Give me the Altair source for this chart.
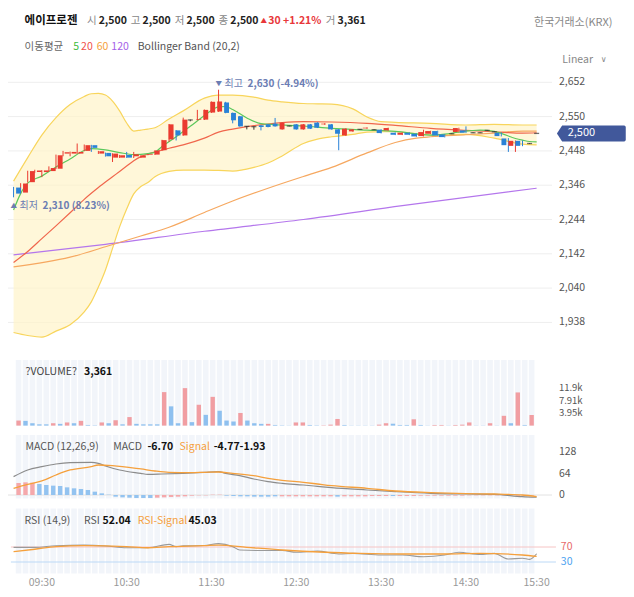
import altair as alt
import pandas as pd

FONT = "Noto Sans CJK KR"

# ---------------- data ----------------
times = ["09:10", "09:15", "09:20", "09:25", "09:30", "09:35", "09:40", "09:45", "09:50", "09:55",
         "10:00", "10:05", "10:10", "10:15", "10:20", "10:25", "10:30", "10:35", "10:40", "10:45", "10:50", "10:55",
         "11:00", "11:05", "11:10", "11:15", "11:20", "11:25", "11:30", "11:35", "11:40", "11:45", "11:50", "11:55",
         "12:00", "12:05", "12:10", "12:15", "12:20", "12:25", "12:30", "12:35", "12:40", "12:45", "12:50", "12:55",
         "13:00", "13:05", "13:10", "13:15", "13:20", "13:25", "13:30", "13:35", "13:40", "13:45", "13:50", "13:55",
         "14:00", "14:05", "14:10", "14:15", "14:20", "14:25", "14:30", "14:35", "14:40", "14:45", "14:50", "14:55",
         "15:00", "15:05", "15:10", "15:15", "15:30"]

opens = [2339, 2324, 2355, 2385, 2385, 2388, 2395, 2440, 2440, 2440,
         2448, 2465, 2440, 2442, 2428, 2428, 2436, 2432, 2428, 2436,
         2437, 2450, 2482, 2509, 2494, 2540, 2540, 2541, 2562, 2565,
         2592, 2561, 2551, 2521, 2520, 2524, 2527, 2529, 2512, 2522,
         2527, 2512, 2527, 2532, 2527, 2527, 2512, 2494, 2506, 2512,
         2515, 2511, 2511, 2509, 2502, 2496, 2502, 2499, 2492, 2499,
         2507, 2497, 2499, 2504, 2509, 2502, 2502, 2509, 2505, 2502,
         2485, 2463, 2478, 2470, 2500]
highs = [2341, 2352, 2389, 2392, 2391, 2402, 2437, 2448, 2446, 2470,
         2467, 2466, 2448, 2443, 2441, 2436, 2445, 2445, 2435, 2439,
         2450, 2481, 2528, 2510, 2547, 2541, 2570, 2571, 2595, 2630,
         2594, 2562, 2552, 2522, 2521, 2525, 2528, 2546, 2533, 2523,
         2528, 2528, 2528, 2533, 2530, 2528, 2513, 2515, 2513, 2513,
         2518, 2512, 2512, 2517, 2503, 2503, 2503, 2500, 2511, 2508,
         2508, 2498, 2500, 2517, 2521, 2503, 2503, 2510, 2506, 2503,
         2486, 2479, 2479, 2471, 2500]
lows = [2310, 2322, 2354, 2383, 2370, 2387, 2394, 2432, 2432, 2439,
        2447, 2445, 2439, 2431, 2415, 2427, 2427, 2427, 2427, 2435,
        2436, 2449, 2475, 2479, 2493, 2536, 2539, 2540, 2561, 2564,
        2560, 2530, 2520, 2512, 2511, 2509, 2518, 2520, 2511, 2521,
        2511, 2511, 2513, 2516, 2526, 2511, 2450, 2493, 2505, 2511,
        2514, 2510, 2500, 2508, 2495, 2495, 2495, 2490, 2491, 2498,
        2493, 2488, 2498, 2503, 2501, 2501, 2501, 2508, 2504, 2491,
        2445, 2445, 2462, 2469, 2500]
closes = [2321, 2351, 2388, 2390, 2390, 2397, 2435, 2444, 2445, 2445,
          2465, 2457, 2447, 2432, 2440, 2435, 2428, 2438, 2434, 2438,
          2449, 2480, 2527, 2494, 2541, 2540, 2542, 2570, 2594, 2595,
          2561, 2539, 2521, 2521, 2520, 2519, 2519, 2521, 2532, 2522,
          2512, 2527, 2514, 2517, 2529, 2512, 2499, 2514, 2512, 2512,
          2517, 2511, 2501, 2516, 2496, 2502, 2496, 2491, 2504, 2507,
          2494, 2489, 2499, 2516, 2502, 2502, 2502, 2509, 2505, 2492,
          2465, 2478, 2463, 2470, 2500]

volumes = [1600, 1500, 750, 400, 400, 750, 550, 1000, 750, 1500,
           200, 100, 1000, 750, 1700, 400, 2700, 550, 400, 400,
           400, 10600, 6100, 750, 11860, 1100, 6600, 3400, 9100, 4700,
           1600, 1300, 4000, 1600, 750, 550, 550, 200, 100, 50,
           1000, 1000, 200, 100, 100, 300, 2100, 200, 50, 50,
           50, 50, 300, 750, 600, 200, 200, 2000, 200, 50,
           200, 200, 50, 200, 300, 1000, 50, 50, 750, 50,
           3100, 750, 10500, 200, 3361]
vol_dir = list("uddddududu" "ddudududdd" "duddududud" "dduddduddd" "uudduuuddd"
               "dduudddudd" "uuduuuddud" "ududu")

hist = [36, 38, 37,
        33, 30, 28, 27, 23, 20, 18, 15, 10, 5,
        1,
        -5, -7, -8, -9, -9, -9,
        -8, -7, -6, -5, -4,
        -2, -1, -1, 1, 1,
        -2, -3, -4, -4, -5, -5, -5, -4,
        -4, -4, -4, -4, -4, -4, -4, -4,
        -5, -4, -4, -4, -4, -3, -3, -3,
        -3, -3, -3, -3, -2, -2, -2, -2,
        -2, -2, -2, -1, -1, -1, -1, -1,
        -1, -1, -2, -2, -2]
hist_dir = list("uuu" + "d" * 11 + "d" * 6 + "u" * 10 + "d" * 8 + "u" * 8 + "d" + "u" * 7 + "d" + "u" * 20)

macd_idx = [0, 2, 4, 6, 8, 11, 12, 13, 15, 18, 19, 21, 24, 27, 29, 30, 32, 34, 36, 38, 41, 43, 45, 50, 54, 59, 64, 68, 72, 74]
macd_val = [55, 75, 85, 93, 97, 98, 95, 87, 75, 65, 62, 63, 65, 68, 70, 65, 58, 48, 40, 35, 30, 26, 22, 15, 10, 5, 3, 2, -5, -6.7]
msig_idx = [0, 2, 4, 6, 8, 11, 12, 14, 18, 20, 22, 25, 27, 29, 31, 34, 36, 38, 41, 43, 45, 50, 54, 59, 64, 68, 72, 74]
msig_val = [20, 32, 42, 60, 75, 85, 90, 88, 78, 72, 68, 67, 68, 69, 65, 58, 50, 44, 38, 33, 28, 20, 12, 7, 4, 3, 0, -4.77]

rsi_idx = [0, 3, 6, 10, 13, 16, 19, 22, 23, 24, 27, 29, 31, 32, 35, 38, 40, 43, 46, 48, 52, 55, 58, 61, 63, 66, 68, 70, 72, 73, 74]
rsi_val = [69, 69, 73.5, 75, 72.7, 68, 68, 77, 71, 73, 74, 79, 71, 62, 60.5, 60.5, 56, 59, 51.3, 53, 48.7, 48.7, 44, 48.7, 56, 50, 53, 38, 40, 37, 52.04]
rsig_idx = [0, 3, 6, 10, 16, 19, 22, 27, 29, 33, 38, 44, 49, 55, 61, 66, 72, 74]
rsig_val = [57.6, 64, 71, 73.5, 71, 68, 71, 73.5, 75, 69.2, 62, 56, 53, 51.3, 51.3, 53, 48.7, 45.03]

ma5_idx = [0, 1, 2, 4, 6, 8, 10, 11, 13, 15, 17, 19, 20, 21, 23, 25, 27, 29, 30, 31, 33, 35, 37, 41, 45, 50, 54, 59, 61, 63, 66, 68, 69, 71, 72, 73, 74]
ma5_val = [2272, 2321, 2352, 2373, 2400, 2424, 2449, 2455, 2451, 2443, 2437, 2440, 2444, 2461, 2490, 2521, 2553, 2579, 2580, 2571,
           2546, 2529, 2526, 2522, 2515, 2510, 2506, 2495, 2498, 2504, 2510, 2506, 2500, 2485, 2480, 2476, 2475]
ma20_idx = [0, 2, 4, 6, 8, 10, 12, 14, 15, 16, 17, 18, 20, 22, 24, 27, 29, 31, 34, 36, 38, 41, 45, 50, 54, 59, 64, 68, 72, 74]
ma20_val = [2116, 2149, 2187, 2225, 2264, 2304, 2339, 2371, 2387, 2403, 2419, 2431, 2445, 2456, 2466, 2486, 2504, 2513, 2523, 2528,
            2532, 2535, 2534, 2530, 2524, 2515, 2509, 2505, 2501, 2502]
ma60_idx = [0, 8, 13, 18, 22, 27, 31, 36, 41, 45, 50, 54, 57, 59, 64, 68, 72, 74]
ma60_val = [2103, 2132, 2163, 2195, 2221, 2265, 2299, 2337, 2372, 2399, 2442, 2473, 2486, 2490, 2496, 2501, 2507, 2507]
ma120_idx = [0, 13, 27, 41, 55, 74]
ma120_val = [2139, 2170, 2209, 2244, 2285, 2337]

bb_idx = [0, 2, 4, 6, 8, 10, 11, 12, 13, 14, 15, 16, 17, 18, 19, 20, 22, 24, 27, 29,
          31, 34, 36, 38, 41, 43, 45, 48, 50, 52, 54, 59, 64, 68, 72, 74]
bb_up = [2358, 2428, 2495, 2547, 2586, 2610, 2618, 2619, 2614, 2596, 2567, 2531, 2507, 2510, 2513, 2517, 2543, 2567, 2605, 2614,
         2614, 2608, 2599, 2594, 2589, 2588, 2587, 2573, 2549, 2535, 2533, 2530, 2525, 2527, 2525, 2525]
bb_lo = [1908, 1899, 1894, 1912, 1931, 1969, 1999, 2043, 2094, 2158, 2222, 2275, 2320, 2342, 2354, 2371, 2387, 2391, 2391, 2390,
         2388, 2399, 2412, 2433, 2470, 2483, 2490, 2497, 2504, 2505, 2505, 2495, 2497, 2486, 2468, 2466]

price_ticks = [1938, 2040, 2142, 2244, 2346, 2448, 2550, 2652]
vol_ticks = [3950, 7910, 11900]
vol_tick_labels = ["3.95k", "7.91k", "11.9k"]
macd_ticks = [0, 64, 128]
rsi_ticks = [70, 30]

n = len(times)
for arr in (opens, highs, lows, closes, volumes, vol_dir, hist, hist_dir):
    assert len(arr) == n, len(arr)
assert len(macd_idx) == len(macd_val) and len(msig_idx) == len(msig_val)
assert len(rsi_idx) == len(rsi_val) and len(rsig_idx) == len(rsig_val)
assert len(ma5_idx) == len(ma5_val) and len(ma20_idx) == len(ma20_val)
assert len(ma60_idx) == len(ma60_val) and len(ma120_idx) == len(ma120_val)
assert len(bb_idx) == len(bb_up) == len(bb_lo)

# ---------------- layout helpers ----------------
W, H = 618, 589
K = 0.975


def PX(x):
    return round(x * K, 2)


def PY(y):
    return round(y - 8, 2)


XS = alt.Scale(domain=[0, n - 1], range=[PX(5.7), PX(542.2)], nice=False, zero=False)
PS = alt.Scale(domain=[1938, 2652], range=[PY(322.4), PY(82.3)], nice=False, zero=False)
VS = alt.Scale(domain=[0, 11900], range=[PY(425.6), PY(388)], nice=False, zero=False)
MS = alt.Scale(domain=[0, 128], range=[PY(495), PY(452.3)], nice=False, zero=False)
RS = alt.Scale(domain=[30, 70], range=[PY(562), PY(547)], nice=False, zero=False)


def xq(field="i"):
    return alt.X(f"{field}:Q", scale=XS, axis=None)


def yq(field, scale):
    return alt.Y(f"{field}:Q", scale=scale, axis=None)


one = pd.DataFrame({"k": [0]})


def txt(s, x, y, color="#222", size=11, weight="normal", align="left", font=FONT):
    return alt.Chart(one).mark_text(
        text=s, align=align, baseline="middle", fontSize=size, fontWeight=weight,
        color=color, font=font
    ).encode(x=alt.value(PX(x)), y=alt.value(PY(y)))


def fmt(v):
    return f"{v:,}"


def series(idx, val):
    return pd.DataFrame({"i": idx, "v": val})


def line(idx, val, scale, color, width=1.2):
    return alt.Chart(series(idx, val)).mark_line(
        color=color, strokeWidth=width, interpolate="monotone"
    ).encode(x=xq(), y=yq("v", scale))


cdf = pd.DataFrame({"i": list(range(n)), "t": times, "o": opens, "h": highs, "l": lows, "c": closes})
cdf["dir"] = ["up" if c > o else ("down" if c < o else "flat") for o, c in zip(opens, closes)]
CCOL = alt.Scale(domain=["up", "down", "flat"], range=["#ea3b30", "#2a82d7", "#333333"])

layers = []

# ---- header ----
RED = "#e8373a"
HS = 10.5
layers += [
    txt("에이프로젠", 17, 21, "#111", 11.5, "bold"),
    txt("시", 81, 21, "#888", HS),
    txt(fmt(opens[-1]), 93, 21, "#222", HS, "bold"),
    txt("고", 126, 21, "#888", HS),
    txt(fmt(highs[-1]), 138, 21, "#222", HS, "bold"),
    txt("저", 171, 21, "#888", HS),
    txt(fmt(lows[-1]), 183, 21, "#222", HS, "bold"),
    txt("종", 216, 21, "#888", HS),
    txt(fmt(closes[-1]), 228, 21, "#222", HS, "bold"),
    txt("▲", 259, 20.5, RED, 6.5),
    txt("30 +1.21%", 267, 21, RED, HS, "bold"),
    txt("거", 326, 21, "#888", HS),
    txt(fmt(volumes[-1]), 338, 21, "#222", HS, "bold"),
    txt("한국거래소(KRX)", 620, 22.5, "#888", 11, align="right"),
    txt("이동평균", 17, 46.5, "#666", 10.5),
    txt("5", 67, 46.5, "#3dbb3d", 10.5),
    txt("20", 75, 46.5, "#f0504a", 10.5),
    txt("60", 91, 46.5, "#f5a03c", 10.5),
    txt("120", 106, 46.5, "#a45ee8", 10.5),
    txt("Bollinger Band (20,2)", 133, 46.5, "#555", 10.5),
    txt("Linear", 600, 60, "#888", 10.5, align="right"),
    txt("∨", 608, 60, "#888", 8, font="DejaVu Sans"),
]

# ---- price pane ----
layers.append(
    alt.Chart(pd.DataFrame({"v": price_ticks})).mark_rule(color="#eeeeee", strokeWidth=1).encode(
        y=yq("v", PS), x=alt.value(0), x2=alt.value(PX(558)))
)
bbdf = pd.DataFrame({"i": bb_idx, "up": bb_up, "lo": bb_lo})
layers.append(
    alt.Chart(bbdf).mark_area(color="#fff3c4", opacity=0.65, interpolate="monotone").encode(
        x=xq(), y=yq("up", PS), y2="lo:Q")
)
layers.append(line(bb_idx, bb_up, PS, "#f8d55c", 1.2))
layers.append(line(bb_idx, bb_lo, PS, "#f8d55c", 1.2))
layers.append(line(ma120_idx, ma120_val, PS, "#b476ec"))
layers.append(line(ma60_idx, ma60_val, PS, "#f6a860"))
layers.append(line(ma20_idx, ma20_val, PS, "#f0664c"))
layers.append(line(ma5_idx, ma5_val, PS, "#5cc85c"))

layers.append(
    alt.Chart(cdf).mark_rule(strokeWidth=1).encode(
        x=xq(), y=yq("l", PS), y2="h:Q",
        color=alt.Color("dir:N", scale=CCOL, legend=None))
)
layers.append(
    alt.Chart(cdf[cdf["dir"] != "flat"]).mark_bar(size=4.9).encode(
        x=xq(), y=yq("o", PS), y2="c:Q",
        color=alt.Color("dir:N", scale=CCOL, legend=None))
)
layers.append(
    alt.Chart(cdf[cdf["dir"] == "flat"]).mark_tick(orient="horizontal", size=5, thickness=1.3).encode(
        x=xq(), y=yq("c", PS),
        color=alt.Color("dir:N", scale=CCOL, legend=None))
)

# high / low annotations
hi_i = highs.index(max(highs))
lo_i = lows.index(min(lows))
hi_v, lo_v, last = highs[hi_i], lows[lo_i], closes[-1]
hi_df = pd.DataFrame({"i": [hi_i], "v": [hi_v]})
lo_df = pd.DataFrame({"i": [lo_i], "v": [lo_v]})
ANN = "#6b7db3"


def ann(df, s, dx, dy, size=10, weight="normal"):
    return alt.Chart(df).mark_text(text=s, align="left", baseline="middle", dx=dx, dy=dy,
                                   fontSize=size, fontWeight=weight, color=ANN, font=FONT).encode(
        x=xq(), y=yq("v", PS))


layers += [
    ann(hi_df, "▼", -3, -6, 6.5),
    ann(hi_df, "최고", 6, -6),
    ann(hi_df, f"{hi_v:,} ({(last - hi_v) / hi_v * 100:.2f}%)", 29, -6, 10, "bold"),
    ann(lo_df, "▲", -3, 9, 6.5),
    ann(lo_df, "최저", 6, 9),
    ann(lo_df, f"{lo_v:,} ({(last - lo_v) / lo_v * 100:.2f}%)", 29, 9, 10, "bold"),
]

# price labels + current-price marker
layers.append(
    alt.Chart(pd.DataFrame({"v": price_ticks})).mark_text(
        align="left", baseline="middle", fontSize=10.5, color="#555", font=FONT).encode(
        x=alt.value(PX(565)), y=yq("v", PS), text=alt.Text("v:Q", format=","))
)
last_df = pd.DataFrame({"v": [last]})
layers.append(
    alt.Chart(last_df).mark_point(
        shape="M-1,0L-0.35,-1L7.4,-1Q7.6,-1 7.6,-0.8L7.6,0.8Q7.6,1 7.4,1L-0.35,1Z",
        size=256, filled=True, opacity=1, color="#41589b", strokeWidth=0).encode(
        x=alt.value(PX(563) + 8), y=yq("v", PS))
)
layers.append(
    alt.Chart(last_df).mark_text(align="left", baseline="middle", fontSize=11, color="white", font=FONT).encode(
        x=alt.value(PX(574)), y=yq("v", PS), text=alt.Text("v:Q", format=","))
)

# ---- stripes behind lower panes ----
sdf = pd.DataFrame({"i": list(range(n))})
for top, bot in [(360, 425.7), (435, 498.5), (508.5, 573.5)]:
    layers.append(
        alt.Chart(sdf).mark_bar(size=5.6, color="#f2f5fa").encode(
            x=xq(), y=alt.value(PY(top)), y2=alt.value(PY(bot)))
    )

# ---- volume pane ----
vdf = pd.DataFrame({"i": list(range(n)), "v": volumes, "z": 0, "d": vol_dir})
layers.append(
    alt.Chart(vdf).mark_bar(size=4.4).encode(
        x=xq(), y=yq("v", VS), y2="z:Q",
        color=alt.Color("d:N", scale=alt.Scale(domain=["u", "d"], range=["#f19ea2", "#8ec0ef"]), legend=None))
)
layers += [
    txt("?VOLUME?", 18, 372, "#444", 10.5),
    txt(fmt(volumes[-1]), 78, 372, "#111", 10.5, "bold"),
]
layers.append(
    alt.Chart(pd.DataFrame({"v": vol_ticks, "lab": vol_tick_labels})).mark_text(
        align="left", baseline="middle", fontSize=9.5, color="#555", font=FONT).encode(
        x=alt.value(PX(565)), y=yq("v", VS), text="lab:N")
)

# ---- MACD pane ----
layers.append(
    alt.Chart(pd.DataFrame({"v": [0]})).mark_rule(color="#e2e2e2", strokeWidth=1).encode(
        y=yq("v", MS), x=alt.value(0), x2=alt.value(PX(558)))
)
hdf = pd.DataFrame({"i": list(range(n)), "v": hist, "z": 0, "d": hist_dir})
layers.append(
    alt.Chart(hdf).mark_bar(size=4.4).encode(
        x=xq(), y=yq("v", MS), y2="z:Q",
        color=alt.Color("d:N", scale=alt.Scale(domain=["u", "d"], range=["#f5a8ab", "#93c3f0"]), legend=None))
)
layers.append(line(macd_idx, macd_val, MS, "#8c8c8c", 1.2))
layers.append(line(msig_idx, msig_val, MS, "#f5a03c", 1.3))
layers += [
    txt("MACD (12,26,9)", 18, 447, "#555", 10.5),
    txt("MACD", 108, 447, "#555", 10.5),
    txt("-6.70", 143, 447, "#111", 10.5, "bold"),
    txt("Signal", 176, 447, "#f5a03c", 10.5),
    txt("-4.77-1.93", 211, 447, "#111", 10.5, "bold"),
]
layers.append(
    alt.Chart(pd.DataFrame({"v": macd_ticks})).mark_text(
        align="left", baseline="middle", fontSize=10.5, color="#555", font=FONT).encode(
        x=alt.value(PX(565)), y=yq("v", MS), text=alt.Text("v:Q", format="d"))
)

# ---- RSI pane ----
layers.append(
    alt.Chart(pd.DataFrame({"v": [70]})).mark_rule(color="#f6c4c4", strokeWidth=1).encode(
        y=yq("v", RS), x=alt.value(PX(3)), x2=alt.value(PX(562)))
)
layers.append(
    alt.Chart(pd.DataFrame({"v": [30]})).mark_rule(color="#bcd9f6", strokeWidth=1).encode(
        y=yq("v", RS), x=alt.value(PX(3)), x2=alt.value(PX(562)))
)
layers.append(line(rsi_idx, rsi_val, RS, "#9a9a9a", 1.1))
layers.append(line(rsig_idx, rsig_val, RS, "#f5a03c", 1.3))
layers += [
    txt("RSI (14,9)", 17, 520.5, "#555", 10.5),
    txt("RSI", 78, 520.5, "#555", 10.5),
    txt("52.04", 97, 520.5, "#111", 10.5, "bold"),
    txt("RSI-Signal", 133, 520.5, "#f5a03c", 10.5),
    txt("45.03", 185, 520.5, "#111", 10.5, "bold"),
]
rdf = pd.DataFrame({"v": rsi_ticks, "col": ["r", "b"]})
layers.append(
    alt.Chart(rdf).mark_text(align="left", baseline="middle", fontSize=10.5, font=FONT).encode(
        x=alt.value(PX(567)), y=yq("v", RS), text=alt.Text("v:Q", format="d"),
        color=alt.Color("col:N", scale=alt.Scale(domain=["r", "b"], range=["#e86a6a", "#4da3f0"]), legend=None))
)

# ---- time axis labels ----
tl = pd.DataFrame({"i": [i for i, t in enumerate(times) if t.endswith(":30")],
                   "t": [t for t in times if t.endswith(":30")]})
layers.append(
    alt.Chart(tl).mark_text(align="center", baseline="middle", fontSize=10.5, color="#999", font=FONT).encode(
        x=xq(), y=alt.value(PY(583)), text="t:N")
)

chart = alt.layer(*layers).properties(
    width=W, height=H, padding=0, autosize=alt.AutoSizeParams(type="none")
).resolve_scale(
    x="independent", y="independent", color="independent"
).configure_view(stroke=None)

chart.save("out.html", embed_options={"renderer": "svg", "actions": False})
